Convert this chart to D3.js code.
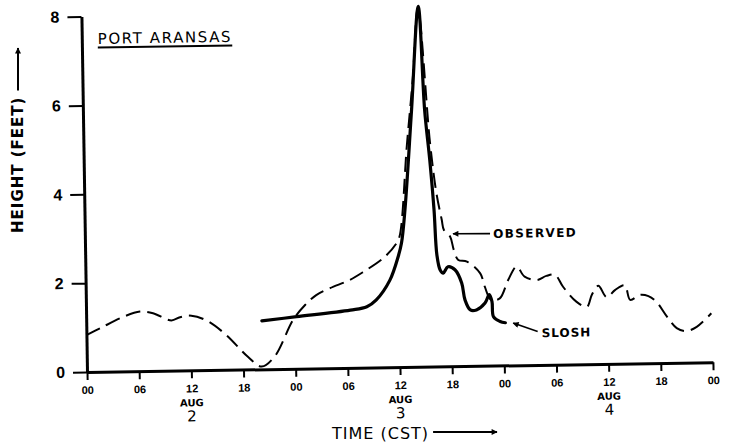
<!DOCTYPE html>
<html>
<head>
<meta charset="utf-8">
<script src="https://cdnjs.cloudflare.com/ajax/libs/d3/7.8.5/d3.min.js"></script>
<style>
  body { margin: 0; background: #fff; }
  svg { display: block; font-family: "DejaVu Sans", sans-serif; }
  .axis path, .axis line { stroke: #000; }
  .axis text { fill: #000; font-weight: bold; }
</style>
</head>
<body>
<div id="chart"></div>
<script>
// hours since 00 Aug 2 (CST), height in feet
var observedHours = [0, 1.6, 4.3, 6.2, 7.7, 9.8, 10.8, 12.1, 13.9, 16.1, 18.5, 20.1, 21.6, 23.8, 25.2, 26.5,
  28.1, 30.4, 32.0, 34.3, 35.8, 36.2, 37.2, 38.0, 38.7, 39.86, 40.5, 41.07, 41.3, 42.0, 42.4, 42.9, 43.9,
  45.4, 45.9, 46.6, 47.6, 48.6, 49.6, 50.5, 51.9, 53.0, 54.0, 54.9, 56.4, 57.6, 58.2, 58.96, 59.9, 60.9,
  62.0, 62.6, 63.7, 64.7, 65.6, 66.8, 67.9, 69.0, 70.2, 71.9];
var observedFeet = [0.83, 0.98, 1.23, 1.34, 1.30, 1.13, 1.20, 1.23, 1.11, 0.78, 0.29, 0.06, 0.28, 1.10, 1.43, 1.65,
  1.80, 1.98, 2.16, 2.46, 2.78, 2.95, 5.0, 6.5, 8.07, 5.04, 3.91, 3.30, 3.07, 2.92, 2.62, 2.39, 2.35,
  2.08, 1.78, 1.48, 1.51, 1.92, 2.22, 1.99, 1.91, 2.0, 2.02, 1.75, 1.41, 1.29, 1.56, 1.76, 1.50, 1.66,
  1.76, 1.43, 1.54, 1.51, 1.38, 1.04, 0.78, 0.71, 0.80, 1.10];

var sloshHours = [20.2, 24.2, 30.4, 32.3, 33.4, 35.0, 36.0, 36.4, 36.86, 37.8, 38.75, 39.3, 39.8, 40.2, 40.45,
  40.8, 41.15, 41.7, 42.5, 43.25, 43.6, 44.2, 44.9, 45.9, 46.4, 46.7, 46.85, 47.6, 48.2];
var sloshFeet = [1.09, 1.17, 1.30, 1.37, 1.52, 1.96, 2.49, 2.79, 3.54, 5.79, 8.11, 5.78, 4.65, 3.53, 2.51,
  2.17, 2.10, 2.24, 2.17, 1.87, 1.49, 1.26, 1.26, 1.41, 1.6, 1.44, 1.10, 0.99, 0.96];

var hourTicks = [0, 6, 12, 18, 24, 30, 36, 42, 48, 54, 60, 66, 72];
var feetTicks = [0, 2, 4, 6, 8];
var dayHours = [12, 36, 60];
var dayLabels = ["2", "3", "4"];

var width = 729, height = 443;
var origin = {x: 87, y: 372};
var plotWidth = 626, plotHeight = 355.5;

var svg = d3.select("#chart").append("svg")
    .attr("width", width)
    .attr("height", height)
    .style("background-color", "#fff");

// the scanned figure is tilted a little
var g = svg.append("g")
    .attr("transform", "translate(" + origin.x + "," + origin.y + ") rotate(-0.9)");

var x = d3.scaleLinear().domain([0, 72]).range([0, plotWidth]);
var y = d3.scaleLinear().domain([0, 8]).range([0, -plotHeight]);

var line = d3.line()
    .x(function(d) { return x(d[0]); })
    .y(function(d) { return y(d[1]); })
    .curve(d3.curveCatmullRom.alpha(0.5));

var observed = observedHours.map(function(h, i) { return [h, observedFeet[i]]; });
var slosh = sloshHours.map(function(h, i) { return [h, sloshFeet[i]]; });

// x axis
var xAxis = g.append("g")
    .attr("class", "axis")
    .call(d3.axisBottom(x)
      .tickValues(hourTicks)
      .tickSize(8)
      .tickSizeOuter(0)
      .tickPadding(6)
      .tickFormat(function(h) { return d3.format("02d")(h % 24); }));
xAxis.select(".domain").attr("stroke-width", 3);
xAxis.selectAll(".tick line").attr("stroke-width", 2);
xAxis.selectAll("text").attr("dy", null).attr("y", 22).style("font-size", "11px");

// y axis
var yAxis = g.append("g")
    .attr("class", "axis")
    .call(d3.axisLeft(y)
      .tickValues(feetTicks)
      .tickSize(14)
      .tickSizeOuter(0)
      .tickPadding(8)
      .tickFormat(d3.format("d")));
yAxis.select(".domain").attr("stroke-width", 3);
yAxis.selectAll(".tick line").attr("stroke-width", 2);
yAxis.selectAll("text").style("font-size", "16px");

// day labels
dayHours.forEach(function(h, i) {
  g.append("text")
      .attr("x", x(h))
      .attr("y", 36)
      .attr("text-anchor", "middle")
      .style("font-size", "10px")
      .style("font-weight", "bold")
      .text("AUG");
  g.append("text")
      .attr("x", x(h))
      .attr("y", 51)
      .attr("text-anchor", "middle")
      .style("font-size", "15px")
      .text(dayLabels[i]);
});

// lines
g.append("path")
    .datum(observed)
    .attr("fill", "none")
    .attr("stroke", "#000")
    .attr("stroke-width", 2)
    .attr("stroke-dasharray", "15,7")
    .attr("d", line);

g.append("path")
    .datum(slosh)
    .attr("fill", "none")
    .attr("stroke", "#000")
    .attr("stroke-width", 3.2)
    .attr("stroke-linecap", "round")
    .attr("d", line);

// arrow marker
svg.append("defs").append("marker")
    .attr("id", "head")
    .attr("viewBox", "0 0 10 10")
    .attr("refX", 9)
    .attr("refY", 5)
    .attr("markerWidth", 8)
    .attr("markerHeight", 6)
    .attr("markerUnits", "userSpaceOnUse")
    .attr("orient", "auto")
  .append("path")
    .attr("d", "M0,0L10,5L0,10Z")
    .attr("fill", "#000");

// annotations
g.append("line")
    .attr("x1", x(46.6)).attr("y1", y(2.97))
    .attr("x2", x(42.34)).attr("y2", y(2.98))
    .attr("stroke", "#000").attr("stroke-width", 1.6)
    .attr("marker-end", "url(#head)");
g.append("text")
    .attr("x", x(46.95)).attr("y", y(2.97))
    .attr("dy", "0.36em")
    .style("font-size", "12px")
    .style("font-weight", "bold")
    .style("letter-spacing", "1.4px")
    .text("OBSERVED");

g.append("line")
    .attr("x1", x(51.9)).attr("y1", y(0.75))
    .attr("x2", x(49.1)).attr("y2", y(0.95))
    .attr("stroke", "#000").attr("stroke-width", 1.6)
    .attr("marker-end", "url(#head)");
g.append("text")
    .attr("x", x(52.35)).attr("y", y(0.72))
    .attr("dy", "0.36em")
    .style("font-size", "12px")
    .style("font-weight", "bold")
    .style("letter-spacing", "1px")
    .text("SLOSH");

// station title
var title = g.append("text")
    .attr("x", x(1.83)).attr("y", y(7.5))
    .attr("dy", "0.36em")
    .style("font-size", "15px")
    .style("letter-spacing", "1.6px")
    .text("PORT ARANSAS");
var tw = title.node().getComputedTextLength();
g.append("line")
    .attr("x1", x(1.83)).attr("x2", x(1.83) + tw)
    .attr("y1", y(7.5) + 9).attr("y2", y(7.5) + 9)
    .attr("stroke", "#000").attr("stroke-width", 2);

// axis titles
var xt = svg.append("text")
    .attr("x", 332).attr("y", 433)
    .attr("dy", "0.36em")
    .style("font-size", "16px")
    .style("letter-spacing", "1px")
    .text("TIME (CST)");
var xtw = xt.node().getComputedTextLength();
svg.append("line")
    .attr("x1", 332 + xtw + 4).attr("x2", 497)
    .attr("y1", 432).attr("y2", 432)
    .attr("stroke", "#000").attr("stroke-width", 2)
    .attr("marker-end", "url(#head)");

var yt = svg.append("text")
    .attr("transform", "translate(18,233) rotate(-90)")
    .attr("dy", "0.36em")
    .style("font-size", "15px")
    .style("font-weight", "bold")
    .style("letter-spacing", "1px")
    .text("HEIGHT (FEET)");
var ytw = yt.node().getComputedTextLength();
svg.append("line")
    .attr("x1", 18).attr("x2", 18)
    .attr("y1", 233 - ytw - 6).attr("y2", 48)
    .attr("stroke", "#000").attr("stroke-width", 2)
    .attr("marker-end", "url(#head)");
</script>
</body>
</html>
